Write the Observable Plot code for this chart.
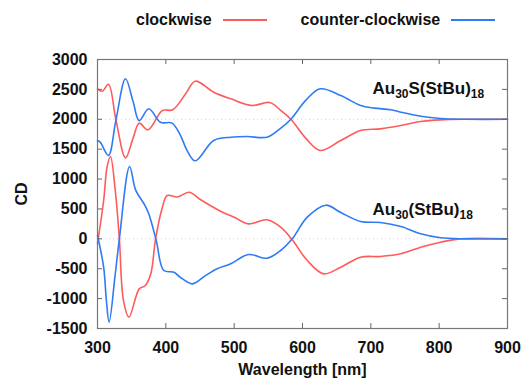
<!DOCTYPE html>
<html>
<head>
<meta charset="utf-8">
<script src="https://cdn.jsdelivr.net/npm/d3@7"></script>
<script src="https://cdn.jsdelivr.net/npm/@observablehq/plot@0.6"></script>
<style>
  html, body { margin: 0; padding: 0; background: #fff; }
  body { width: 524px; height: 378px; overflow: hidden; font-family: "Liberation Sans", Arial, Helvetica, sans-serif; }
  #legend { height: 40px; display: flex; align-items: center; padding-left: 136px; box-sizing: border-box; font-weight: bold; font-size: 16px; color: #111; }
  #legend .sw { display: inline-block; width: 44px; height: 1.5px; margin-left: 11px; }
  #legend .item + .item { margin-left: 34px; }
  #legend .item { display: flex; align-items: center; }
</style>
</head>
<body>
<div id="legend"></div>
<div id="chart"></div>
<script>
// ---- data ----
const seriesNames = ["clockwise", "counter-clockwise"];
const seriesColors = ["#ff5b5b", "#2f7bf5"];
const samples = ["Au30S(StBu)18", "Au30(StBu)18"];

// Au30S(StBu)18 (offset +2000)
const topCwWl  = [300, 307, 316, 327, 341, 352, 361, 374, 395, 410, 429, 443, 470, 495, 526, 552, 568, 583, 605, 626, 656, 685, 714, 744, 773, 802, 840, 900];
const topCwCd  = [2510, 2470, 2585, 1991, 1355, 1680, 1935, 1824, 2147, 2158, 2426, 2637, 2453, 2342, 2230, 2280, 2150, 2000, 1680, 1478, 1645, 1812, 1840, 1896, 1963, 1990, 2000, 2000];
const topCcwWl = [300, 304, 316, 327, 341, 352, 361, 375, 392, 409, 421, 431, 443, 470, 495, 519, 548, 566, 583, 605, 626, 656, 685, 705, 729, 744, 773, 802, 840, 900];
const topCcwCd = [1645, 1617, 1394, 1991, 2677, 2300, 1977, 2175, 1950, 1935, 1740, 1480, 1305, 1645, 1700, 1712, 1700, 1830, 2000, 2320, 2510, 2398, 2230, 2186, 2160, 2118, 2051, 2013, 2000, 2000];

// Au30(StBu)18 (offset 0)
const botCwWl  = [300, 309, 314, 319, 326, 332, 338, 346, 361, 370, 378, 385, 395, 402, 417, 434, 451, 480, 500, 521, 548, 568, 585, 607, 631, 656, 685, 714, 744, 773, 802, 831, 900];
const botCwCd  = [-80, 641, 1200, 1377, 809, 0, -1030, -1310, -837, -780, -585, 0, 530, 725, 700, 780, 653, 462, 362, 250, 318, 195, -17, -363, -586, -475, -307, -295, -250, -140, -56, 0, 0];
const botCcwWl = [300, 309, 313, 317, 326, 332, 347, 356, 368, 375, 386, 397, 412, 421, 439, 458, 475, 495, 521, 548, 568, 585, 607, 634, 656, 685, 714, 744, 773, 802, 840, 900];
const botCcwCd = [56, -474, -1030, -1395, -585, 0, 1210, 810, 587, 420, -30, -530, -558, -642, -753, -615, -502, -418, -262, -324, -195, 0, 362, 563, 440, 290, 272, 205, 84, 17, 0, 0];

const xTicks = [300, 400, 500, 600, 700, 800, 900];
const yTicks = [-1500, -1000, -500, 0, 500, 1000, 1500, 2000, 2500, 3000];
const baselines = [0, 2000];

// ---- build table ----
function rows(wl, cd, series, sample) {
  return wl.map((w, i) => ({wl: w, cd: cd[i], series, sample, key: series + "|" + sample}));
}
const data = [
  ...rows(topCwWl, topCwCd, seriesNames[0], samples[0]),
  ...rows(topCcwWl, topCcwCd, seriesNames[1], samples[0]),
  ...rows(botCwWl, botCwCd, seriesNames[0], samples[1]),
  ...rows(botCcwWl, botCcwCd, seriesNames[1], samples[1])
];

// ---- legend ----
const legend = document.getElementById("legend");
seriesNames.forEach((s, i) => {
  const item = document.createElement("span");
  item.className = "item";
  item.innerHTML = `<span>${s}</span><span class="sw" style="background:${seriesColors[i]}"></span>`;
  legend.appendChild(item);
});

const W = 524, H = 338, ML = 97, MR = 17, MT = 19, MB = 50, TICK = 5;
const xDom = [xTicks[0], xTicks[xTicks.length - 1]];
const yDom = [yTicks[0], yTicks[yTicks.length - 1]];
// inward tick length expressed in data units of each scale
const tx = TICK * (xDom[1] - xDom[0]) / (W - ML - MR);
const ty = TICK * (yDom[1] - yDom[0]) / (H - MT - MB);
const font = {fontFamily: "'Liberation Sans', Arial, Helvetica, sans-serif", fontSize: "16px", fontWeight: "bold", color: "#111", background: "#fff"};
const tickStroke = {stroke: "#666", strokeWidth: 1};

const chart = Plot.plot({
  width: W,
  height: H,
  marginLeft: ML,
  marginRight: MR,
  marginTop: MT,
  marginBottom: MB,
  style: font,
  x: {domain: xDom},
  y: {domain: yDom},
  color: {domain: seriesNames, range: seriesColors},
  marks: [
    Plot.ruleY(baselines, {stroke: "#d0d0d0", strokeDasharray: "1,3", strokeWidth: 1}),
    Plot.line(data, {x: "wl", y: "cd", z: "key", stroke: "series", strokeWidth: 1.6, curve: "catmull-rom"}),
    // inward ticks on all four sides
    Plot.ruleX(xTicks, {x: d => d, y1: yDom[0], y2: yDom[0] + ty, ...tickStroke}),
    Plot.ruleX(xTicks, {x: d => d, y1: yDom[1], y2: yDom[1] - ty, ...tickStroke}),
    Plot.ruleY(yTicks, {y: d => d, x1: xDom[0], x2: xDom[0] + tx, ...tickStroke}),
    Plot.ruleY(yTicks, {y: d => d, x1: xDom[1], x2: xDom[1] - tx, ...tickStroke}),
    Plot.frame({stroke: "#777", strokeWidth: 1.2}),
    Plot.axisX(xTicks, {anchor: "bottom", tickSize: 0, tickPadding: 13, fontSize: 16, tickFormat: d => String(d), label: "Wavelength [nm]", labelAnchor: "center", labelArrow: "none", labelOffset: 46}),
    Plot.axisY(yTicks, {anchor: "left", tickSize: 0, tickPadding: 10, fontSize: 16, tickFormat: d => String(d), label: "CD", labelAnchor: "center", labelArrow: "none", labelOffset: 82}),
    Plot.text([samples[0]], {frameAnchor: "top-left", textAnchor: "start", lineAnchor: "bottom", dx: 275, dy: 34, fontSize: 17, className: "sample-label"}),
    Plot.text([samples[1]], {frameAnchor: "top-left", textAnchor: "start", lineAnchor: "bottom", dx: 275, dy: 155, fontSize: 17, className: "sample-label"})
  ]
});
document.getElementById("chart").appendChild(chart);

// subscripts for chemical formulas
d3.select(chart).selectAll(".sample-label text").each(function() {
  const t = d3.select(this);
  const s = t.text();
  t.text(null);
  const parts = s.match(/\d+|\D+/g);
  parts.forEach((p, i) => {
    if (/^\d+$/.test(p)) {
      t.append("tspan").attr("font-size", "12px").attr("dy", "4").text(p);
    } else {
      t.append("tspan").attr("dy", i > 0 ? "-4" : null).text(p);
    }
  });
});
</script>
</body>
</html>
